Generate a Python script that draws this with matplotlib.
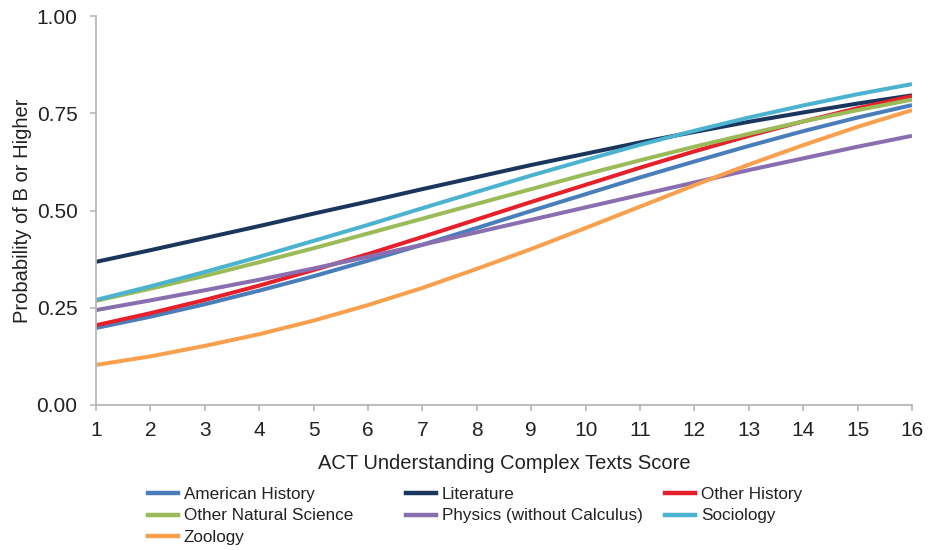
import matplotlib
matplotlib.use("Agg")
import matplotlib.pyplot as plt
from matplotlib.lines import Line2D

plt.rcParams['font.family'] = ['Liberation Sans', 'DejaVu Sans']

scores = list(range(1, 17))

american_history = [0.198, 0.227, 0.259, 0.294, 0.331, 0.371, 0.412, 0.455,
                    0.499, 0.542, 0.585, 0.626, 0.666, 0.704, 0.739, 0.771]
literature = [0.368, 0.398, 0.429, 0.460, 0.492, 0.523, 0.555, 0.586,
              0.617, 0.646, 0.675, 0.702, 0.728, 0.752, 0.775, 0.796]
other_history = [0.205, 0.236, 0.270, 0.307, 0.347, 0.388, 0.432, 0.477,
                 0.522, 0.566, 0.610, 0.652, 0.692, 0.729, 0.763, 0.794]
other_natural_science = [0.268, 0.299, 0.332, 0.367, 0.403, 0.441, 0.479, 0.517,
                         0.555, 0.593, 0.629, 0.664, 0.697, 0.729, 0.758, 0.785]
physics = [0.244, 0.269, 0.295, 0.322, 0.351, 0.381, 0.412, 0.444,
           0.476, 0.508, 0.540, 0.572, 0.604, 0.634, 0.664, 0.692]
sociology = [0.270, 0.305, 0.342, 0.381, 0.422, 0.463, 0.506, 0.548,
             0.590, 0.630, 0.669, 0.705, 0.739, 0.770, 0.799, 0.825]
zoology = [0.103, 0.125, 0.152, 0.182, 0.217, 0.257, 0.301, 0.350,
           0.401, 0.455, 0.510, 0.565, 0.618, 0.668, 0.715, 0.758]

series = [
    ("American History", american_history, "#4a7ebb"),
    ("Literature", literature, "#1b365d"),
    ("Other History", other_history, "#e5202a"),
    ("Other Natural Science", other_natural_science, "#9bbb59"),
    ("Physics (without Calculus)", physics, "#8a6fb0"),
    ("Sociology", sociology, "#4bb3d0"),
    ("Zoology", zoology, "#f8a04e"),
]

y_ticks = [0.0, 0.25, 0.5, 0.75, 1.0]
y_tick_labels = ["0.00", "0.25", "0.50", "0.75", "1.00"]

fig = plt.figure(figsize=(9.38, 5.5), dpi=100)
ax = fig.add_axes([96/938, 1-405/550, (912-96)/938, (405-16)/550])

handles = {}
for name, vals, col in series:
    ax.plot(scores, vals, color=col, lw=2.9, solid_capstyle='butt')
    handles[name] = Line2D([], [], color=col, lw=3.2)

ax.set_xlim(1, 16)
ax.set_ylim(0, 1)
ax.set_xticks(scores)
ax.set_yticks(y_ticks)
ax.set_yticklabels(y_tick_labels)
for s in ['top', 'right']:
    ax.spines[s].set_visible(False)
for s in ['left', 'bottom']:
    ax.spines[s].set_color('#b8b8b8')
    ax.spines[s].set_linewidth(1.3)
ax.tick_params(axis='both', colors='#b8b8b8', labelcolor='#222222',
               labelsize=15, length=4.3, width=1.2, direction='out')
ax.tick_params(axis='x', pad=7.5)
ax.tick_params(axis='y', pad=9)
ax.set_xlabel("ACT Understanding Complex Texts Score", fontsize=14.5,
              color='#222222', labelpad=10)
ax.set_ylabel("Probability of B or Higher", fontsize=14.5, color='#222222',
              labelpad=3)

columns = [
    (148, ["American History", "Other Natural Science", "Zoology"]),
    (406, ["Literature", "Physics (without Calculus)"]),
    (665, ["Other History", "Sociology"]),
]
for xpix, names in columns:
    leg = fig.legend([handles[n] for n in names], names,
                     loc='upper left', bbox_to_anchor=(xpix/938, 1-487/550),
                     frameon=False, fontsize=12.3, handlelength=1.75,
                     handletextpad=0.35, labelspacing=0.38, borderpad=0,
                     borderaxespad=0)
    for t in leg.get_texts():
        t.set_color('#222222')

fig.savefig("out.png", dpi=100)
